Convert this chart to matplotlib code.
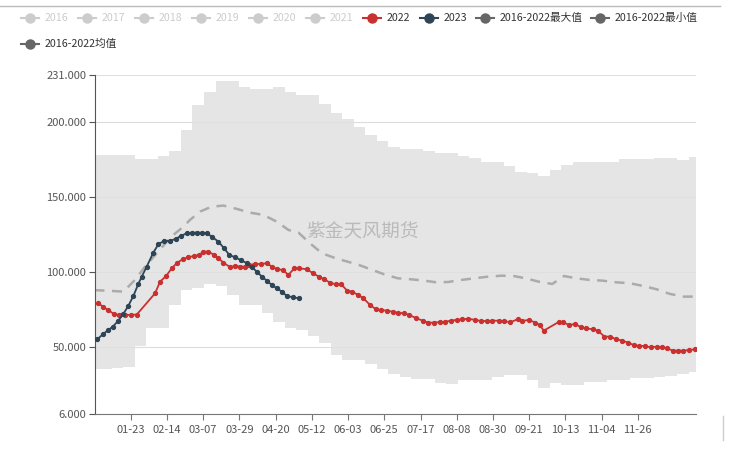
import matplotlib
matplotlib.use("Agg")
import matplotlib.pyplot as plt
from matplotlib.lines import Line2D
import numpy as np
import pandas as pd

plt.rcParams['font.family'] = ['Noto Sans CJK SC', 'DejaVu Sans']

# ---------------- data ----------------
# category axis: month-day of a (leap) year
categories = list(pd.date_range('2020-01-01', '2020-12-31').strftime('%m-%d'))
tick_idx = list(range(22, 331, 22))

# weekly min/max band 2016-2022 (day index of category)
band_days = [0, 7, 14, 21, 28, 35, 42, 49, 56, 63, 70, 77, 84, 91, 98, 105, 112, 119,
             126, 133, 140, 147, 154, 161, 168, 175, 182, 189, 196, 203, 210, 217, 224,
             231, 238, 245, 252, 259, 266, 273, 280, 287, 294, 301, 308, 315, 322, 329,
             336, 343, 350, 357, 365]
band_max = [178, 178, 178, 178, 175.2, 175.2, 177, 180.7, 194.5, 211, 220, 227, 227,
            223, 221.7, 221.7, 223, 219.6, 218, 218, 212, 206, 201.6, 196.3, 191,
            187.4, 183.4, 181.7, 181.7, 180.7, 179, 179, 177, 175.7, 173, 173, 170.8,
            166.4, 165.7, 164, 168, 171, 173.5, 173.5, 173.5, 173.5, 175, 175, 175,
            176, 176, 174.5, 176.3]
band_min = [35.6, 35.6, 36, 37.1, 50.9, 62.6, 62.6, 78, 88, 89.2, 91.9, 90.5, 85,
            78.1, 78.1, 72.6, 67, 63, 61.5, 57.7, 52.7, 45, 41.6, 41.6, 38.9, 35.4, 32,
            30, 29, 29, 26, 25.6, 28.3, 28.3, 28.3, 30.5, 31.6, 31.6, 28.3, 22.8, 26,
            25, 25, 27.1, 27.1, 28.3, 28.3, 29.4, 29.4, 30.5, 31, 32.3, 33.8]

# 2016-2022 mean
mean_days = [0, 10, 17.5, 24.6, 30.7, 37.8, 43.9, 47.9, 54, 58, 64.1, 71.2, 78.3, 86.4,
             94.5, 102.6, 110.7, 117.8, 123.9, 131, 138.2, 146.4, 153.5, 160.7, 168.8,
             176, 184.1, 192.3, 200.4, 207.6, 214.7, 222.9, 231.1, 239.2, 247.3, 254.5,
             261.7, 269.9, 278, 285.2, 292.3, 300.5, 308.6, 316.8, 325, 333.1, 341.3,
             349.4, 357.6, 364.8]
mean_vals = [88, 87.5, 87, 94.8, 103.6, 112.5, 120.2, 124.7, 130.2, 134.7, 140.2, 143.5,
             144.2, 142, 139.5, 138, 133.5, 128, 126.2, 119, 112.5, 109.2, 107, 104.7,
             101.4, 98.5, 95.9, 95.2, 94.3, 93.2, 93.4, 94.8, 95.9, 97, 97.6, 97.4,
             95.9, 93.6, 92.1, 97.4, 95.9, 94.8, 94.3, 93.2, 92.6, 90.8, 88.6, 85.5,
             83.7, 83.7]

# 2022
days_2022 = [2.3, 5.3, 8.4, 11.9, 15.1, 18.5, 22, 25.7, 36.8, 39.8, 43.5, 46.9, 50.3,
             53.6, 57, 60.5, 63.7, 66.1, 69.2, 72.6, 75.3, 78.3, 82.4, 85.4, 88.4, 91.5,
             94.1, 97.6, 101, 104.7, 107.7, 111.1, 114.4, 117.8, 121.3, 124.5, 129,
             132.7, 136.2, 139.6, 142.9, 146.4, 149.8, 153.5, 156.5, 160.1, 163.3, 167.4,
             170.9, 174.3, 177.6, 181.1, 184.1, 187.8, 191.3, 195.4, 199.5, 202.5, 206.2,
             209.7, 213.1, 216.4, 219.9, 223.3, 227, 231.1, 234.8, 238.2, 241.7, 245.4,
             248.9, 252.5, 257.3, 259.7, 263.8, 267.8, 270.3, 272.9, 282.2, 284.6, 288.3,
             292, 295.4, 298.5, 302.6, 305.7, 309.7, 313.2, 316.9, 320.6, 324, 327.5,
             330.8, 334.2, 337.7, 341.4, 344.4, 347.5, 351.2, 354.6, 357.7, 361.3, 364.8]
vals_2022 = [79.7, 76.6, 74.8, 72.0, 71.5, 71.5, 71.5, 71.8, 85.9, 93.6, 97.4, 102.5,
             106.3, 108.5, 109.9, 110.7, 111.4, 113.6, 113.6, 111.4, 109.2, 106.3, 103.2,
             104.1, 103.6, 103.6, 104.7, 105.4, 105.4, 105.9, 103.6, 101.9, 101.4, 98.1,
             102.5, 102.5, 101.9, 99.2, 97, 95.2, 93, 91.9, 91.9, 87.6, 87, 84.8, 82.6,
             78.1, 75.3, 74.8, 74.3, 73.7, 73, 72.6, 71.5, 69.3, 67.7, 66.4, 66.4, 66.8,
             67, 67.7, 68.2, 68.6, 69, 68.2, 67.5, 67.5, 67.7, 67.7, 67.5, 66.6, 68.8,
             67.5, 68.2, 66.4, 64.8, 61.1, 67, 66.6, 64.8, 65.5, 63.3, 62.6, 62, 61.1,
             57.1, 57.1, 55.3, 54.4, 53.1, 51.5, 50.9, 50.9, 50, 50.4, 50, 49.4, 47.8,
             47.8, 47.8, 48.2, 48.7]

# 2023
days_2023 = [1.7, 5.3, 8.4, 11.1, 14.5, 17.5, 20.5, 23.6, 26.6, 28.7, 31.7, 35.7, 38.8,
             42.2, 45.9, 49.5, 52.4, 56, 59.1, 62.1, 65.2, 68.2, 71.2, 75.3, 78.7, 81.9,
             85.4, 88.9, 92.5, 95.6, 98.6, 101.6, 104.7, 107.7, 110.8, 113.8, 116.8,
             120.5, 123.9]
vals_2023 = [55.3, 58.9, 61.5, 63.7, 67.7, 72.2, 77.5, 84.1, 92.1, 97, 103.6, 112.9,
             118.5, 120.7, 120.7, 122.2, 124, 125.8, 126.2, 126.2, 126.2, 125.8, 123.6,
             120.2, 115.8, 111.4, 109.8, 108, 105.9, 103.2, 100.3, 97, 94.3, 91.4, 89.2,
             87, 84.1, 83.3, 82.6]

yticks = [6, 50, 100, 150, 200, 231]
legend_labels = ['2016', '2017', '2018', '2019', '2020', '2021', '2022', '2023',
                 '2016-2022最大值', '2016-2022最小值', '2016-2022均值']

# ---------------- figure ----------------
W, H = 729, 454
fig = plt.figure(figsize=(W / 100, H / 100), dpi=100)
ax = fig.add_axes([94.5 / W, 1 - 413.5 / H, (695.5 - 94.5) / W, (413.5 - 75) / H])

c_red = '#c8312f'
c_navy = '#2d4556'
c_band = '#e5e5e5'
c_mean = '#ababab'

ax.fill_between(band_days, band_min, band_max, step='mid', color=c_band, lw=0, zorder=1)
for y in [50, 100, 150, 200, 231]:
    ax.axhline(y, color='#e0e0e0', lw=0.8, zorder=0.5)
for y in [50, 100, 150, 200]:
    ax.axhline(y, color='#d8d8d8', lw=0.6, alpha=0.5, zorder=1.5)

ax.plot(mean_days, mean_vals, color=c_mean, lw=1.8, dashes=(4, 3), zorder=2)
ax.plot(days_2022, vals_2022, color=c_red, lw=1.3, marker='o', ms=2.8, zorder=3)
ax.plot(days_2023, vals_2023, color=c_navy, lw=1.3, marker='o', ms=2.8, zorder=4)

ax.text(162.5, 126.5, '紫金天风期货', fontsize=13.5, color='#bababa', ha='center',
        va='center', zorder=5)

ax.set_xlim(0, 365)
ax.set_ylim(6, 231)
ax.set_yticks(yticks)
ax.set_yticklabels([f'{v:.3f}' for v in yticks], fontsize=8, color='#555555')
ax.set_xticks(tick_idx)
ax.set_xticklabels([categories[i] for i in tick_idx], fontsize=8, color='#555555')
for s in ['top', 'right']:
    ax.spines[s].set_visible(False)
ax.spines['left'].set_color('#555555')
ax.spines['bottom'].set_color('#777777')
ax.tick_params(axis='y', length=4, color='#555555', pad=2)
ax.tick_params(axis='x', length=4, color='#777777', pad=4)

# ---------------- legend ----------------
def px(x, y):
    return x / W, 1 - y / H

legend_pos = [(21 + 57 * i, 18) for i in range(8)] + [(476, 18), (591, 18), (21, 44)]
inactive = '#cccccc'
colors = [inactive] * 6 + [c_red, c_navy, '#666666', '#666666', '#666666']
text_colors = [inactive] * 6 + ['#333333'] * 5
for (x0, y0), lab, col, tcol in zip(legend_pos, legend_labels, colors, text_colors):
    xa, ya = px(x0, y0)
    xb, _ = px(x0 + 18, y0)
    xm, _ = px(x0 + 9, y0)
    fig.add_artist(Line2D([xa, xb], [ya, ya], color=col, lw=1.5,
                          transform=fig.transFigure))
    fig.add_artist(Line2D([xm], [ya], color=col, marker='o', ms=6.5,
                          transform=fig.transFigure))
    tx, ty = px(x0 + 24, y0)
    fig.text(tx, ty, lab, fontsize=7.7, color=tcol, va='center', ha='left')

# page decorations
fig.add_artist(Line2D([0, 720 / W], [1 - 6 / H, 1 - 6 / H], color='#bbbbbb', lw=1,
                      transform=fig.transFigure))
fig.add_artist(Line2D([723 / W, 723 / W], [1 - 416 / H, 1 - 440 / H], color='#cccccc',
                      lw=1, transform=fig.transFigure))

fig.savefig('out.png', dpi=100)
